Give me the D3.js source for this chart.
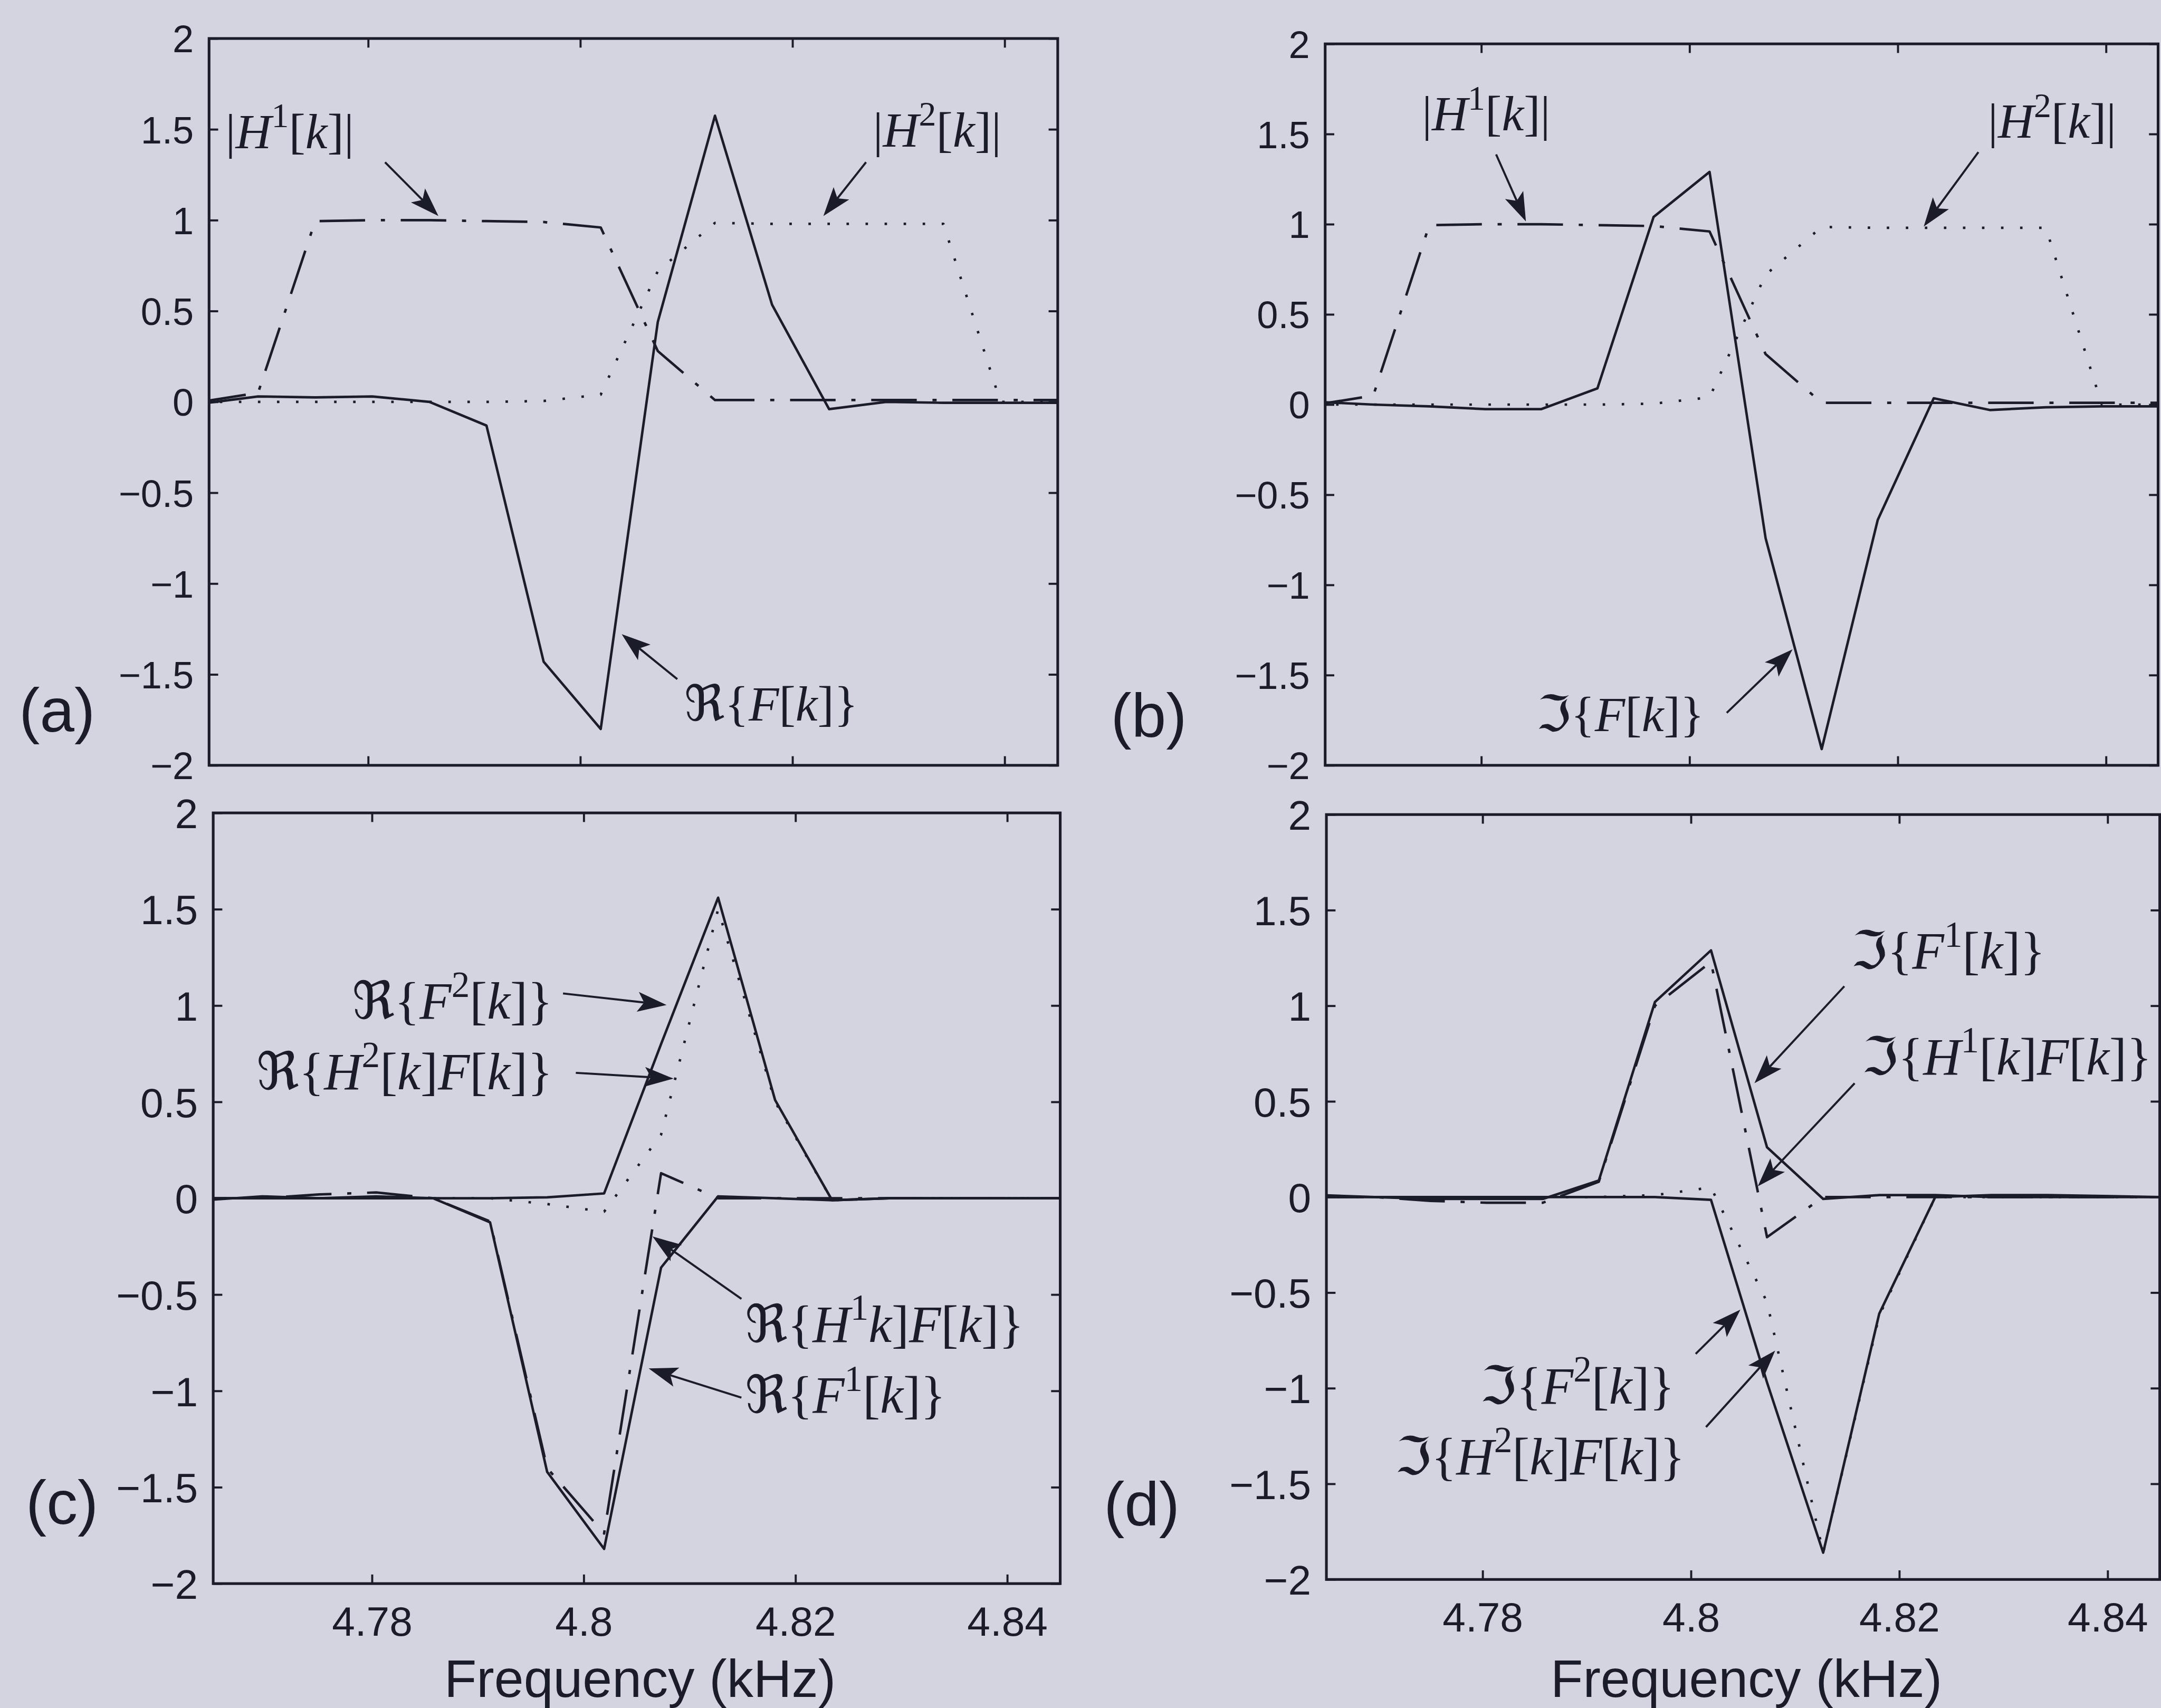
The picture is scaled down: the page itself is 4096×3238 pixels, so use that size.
<!DOCTYPE html>
<html>
<head>
<meta charset="utf-8">
<script src="https://cdn.jsdelivr.net/npm/d3@7"></script>
<style>
  html, body { margin: 0; padding: 0; background: #d3d4df; }
  svg { display: block; }
</style>
</head>
<body>
<svg id="fig" width="4096" height="3238"></svg>
<script>
/// DATA ///
// FFT bin centres (kHz)
const freqs = [4.76422, 4.76962, 4.77500, 4.78039, 4.78577, 4.79115, 4.79654, 4.80192,
               4.80730, 4.81269, 4.81807, 4.82345, 4.82884, 4.83422, 4.83960, 4.84499];

// filter magnitudes |H1[k]|, |H2[k]|
const H1 = [0, 0.05, 0.995, 1, 1, 0.995, 0.99, 0.96, 0.28, 0.01, 0.01, 0.01, 0.01, 0.01, 0.01, 0.01];
const H2 = [0, 0, 0, 0, 0, 0, 0.005, 0.04, 0.72, 0.985, 0.98, 0.98, 0.98, 0.98, 0, 0];

// spectrum F[k]
const reF = [-0.01, 0.03, 0.025, 0.03, 0.0, -0.13, -1.43, -1.80, 0.44, 1.575, 0.535, -0.04, 0.0, -0.005, -0.005, -0.005];
const imF = [0.015, 0.0, -0.01, -0.025, -0.025, 0.09, 1.04, 1.29, -0.74, -1.91, -0.64, 0.035, -0.03, -0.015, -0.01, -0.01];

// panel (c) real parts
const reF1  = [-0.01, 0.01, 0.0, 0.01, 0.0, -0.125, -1.42, -1.82, -0.36, 0.01, 0.0, -0.01, 0.0, 0.0, 0.0, 0.0];
const reF2  = [0.0, 0.0, 0.0, 0.0, 0.0, 0.0, 0.005, 0.025, 0.80, 1.56, 0.51, -0.01, 0.0, 0.0, 0.0, 0.0];
const reH1F = [0.0, 0.0, 0.02, 0.03, 0.0, -0.12, -1.40, -1.74, 0.13, 0.0, 0.0, 0.0, 0.0, 0.0, 0.0, 0.0];
const reH2F = [0.0, 0.0, 0.0, 0.0, 0.0, 0.0, -0.03, -0.07, 0.33, 1.50, 0.50, -0.01, 0.0, 0.0, 0.0, 0.0];

// panel (d) imaginary parts
const imF1  = [0.01, 0.0, -0.01, -0.01, -0.01, 0.086, 1.02, 1.29, 0.26, -0.01, 0.01, 0.01, 0.0, 0.0, 0.0, 0.0];
const imF2  = [0.0, 0.0, 0.0, 0.0, 0.0, 0.0, 0.0, -0.015, -0.97, -1.86, -0.61, 0.0, 0.01, 0.01, 0.005, 0.0];
const imH1F = [0.0, 0.0, -0.02, -0.03, -0.03, 0.08, 1.0, 1.23, -0.21, 0.0, 0.0, 0.0, 0.0, 0.0, 0.0, 0.0];
const imH2F = [0.0, 0.0, 0.0, 0.0, 0.0, 0.0, 0.01, 0.05, -0.55, -1.86, -0.62, 0.0, 0.0, 0.0, 0.0, 0.0];

// axes
const xDomain = [4.765, 4.845];
const yDomain = [-2, 2];
const xTicks = [4.78, 4.80, 4.82, 4.84];
const yTicks = [-2, -1.5, -1, -0.5, 0, 0.5, 1, 1.5, 2];

/// STYLE / LAYOUT (reference pixel units, scaled down at the end) ///
const ink = "#1a1c2a";
const sansFont = "'Liberation Sans', Arial, Helvetica, sans-serif";
const mathFont = "'Liberation Serif', 'Times New Roman', serif";
const symFont = "'DejaVu Serif', 'DejaVu Sans', serif";
const lineW = 6;
const dashes = { solid: null, dot: "6 40", dashdot: "110 38 10 38" };

const layout = {
  a: { box: [505, 93, 2555, 1849],  tickFs: 92,  mathFs: 120, letter: ["(a)", 138, 1768],  xlab: false },
  b: { box: [3201, 106, 5213, 1849], tickFs: 92,  mathFs: 120, letter: ["(b)", 2775, 1780], xlab: false },
  c: { box: [515, 1964, 2561, 3826], tickFs: 100, mathFs: 126, letter: ["(c)", 150, 3682],  xlab: true },
  d: { box: [3204, 1968, 5217, 3816], tickFs: 100, mathFs: 126, letter: ["(d)", 2758, 3686], xlab: true }
};

const series = {
  a: [{ v: H1, s: "dashdot" }, { v: H2, s: "dot" }, { v: reF, s: "solid" }],
  b: [{ v: H1, s: "dashdot" }, { v: H2, s: "dot" }, { v: imF, s: "solid" }],
  c: [{ v: reH2F, s: "dot" }, { v: reH1F, s: "dashdot" }, { v: reF1, s: "solid" }, { v: reF2, s: "solid" }],
  d: [{ v: imH2F, s: "dot" }, { v: imH1F, s: "dashdot" }, { v: imF1, s: "solid" }, { v: imF2, s: "solid" }]
};

// label pieces: [text, kind] kind: i = italic, sup = superscript, sym = fraktur symbol
const Re = ["\u211C", "sym"], Im = ["\u2111", "sym"];
const lb = ["{"], rb = ["}"], ob = ["["], cb = ["]"], kk = ["k", "i"], bar = ["|"];
const labels = {
  a: [
    { segs: [bar, ["H", "i"], ["1", "sup"], ob, kk, cb, bar], at: [4.76656, 1.396], anchor: "start", from: [4.78159, 1.319], to: [4.78662, 1.023] },
    { segs: [bar, ["H", "i"], ["2", "sup"], ob, kk, cb, bar], at: [4.82759, 1.405], anchor: "start", from: [4.82693, 1.319], to: [4.82291, 1.023] },
    { segs: [Re, lb, ["F", "i"], ob, kk, cb, rb], at: [4.8098, -1.754], anchor: "start", from: [4.80914, -1.526], to: [4.8039, -1.278] }
  ],
  b: [
    { segs: [bar, ["H", "i"], ["1", "sup"], ob, kk, cb, bar], at: [4.7743, 1.52], anchor: "start", from: [4.78142, 1.387], to: [4.78428, 1.0155] },
    { segs: [bar, ["H", "i"], ["2", "sup"], ob, kk, cb, bar], at: [4.82866, 1.479], anchor: "start", from: [4.82774, 1.40], to: [4.82249, 0.987] },
    { segs: [Im, lb, ["F", "i"], ob, kk, cb, rb], at: [4.78528, -1.81], anchor: "start", from: [4.80357, -1.709], to: [4.80989, -1.357] }
  ],
  c: [
    { segs: [Re, lb, ["F", "i"], ["2", "sup"], ob, kk, cb, rb], at: [4.79706, 0.932], anchor: "end", from: [4.79804, 1.063], to: [4.80782, 1.003] },
    { segs: [Re, lb, ["H", "i"], ["2", "sup"], ob, kk, cb, ["F", "i"], ob, kk, cb, rb], at: [4.79706, 0.567], anchor: "end", from: [4.79925, 0.651], to: [4.80848, 0.621] },
    { segs: [Re, lb, ["H", "i"], ["1", "sup"], kk, cb, ["F", "i"], ob, kk, cb, rb], at: [4.81524, -0.745], anchor: "start", from: [4.81489, -0.522], to: [4.80649, -0.198] },
    { segs: [Re, lb, ["F", "i"], ["1", "sup"], ob, kk, cb, rb], at: [4.81524, -1.113], anchor: "start", from: [4.81489, -1.035], to: [4.80613, -0.883] }
  ],
  d: [
    { segs: [Im, lb, ["F", "i"], ["1", "sup"], ob, kk, cb, rb], at: [4.81535, 1.195], anchor: "start", from: [4.81472, 1.102], to: [4.80609, 0.595] },
    { segs: [Im, lb, ["H", "i"], ["1", "sup"], ob, kk, cb, ["F", "i"], ob, kk, cb, rb], at: [4.81639, 0.641], anchor: "start", from: [4.81571, 0.595], to: [4.80641, 0.056] },
    { segs: [Im, lb, ["F", "i"], ["2", "sup"], ob, kk, cb, rb], at: [4.79842, -1.08], anchor: "end", from: [4.80045, -0.82], to: [4.80474, -0.589] },
    { segs: [Im, lb, ["H", "i"], ["2", "sup"], ob, kk, cb, ["F", "i"], ob, kk, cb, rb], at: [4.79942, -1.45], anchor: "end", from: [4.80144, -1.203], to: [4.80808, -0.803] }
  ]
};

/// DRAW ///
const svg = d3.select("#fig");
const root = svg.append("g").attr("transform", `scale(${4096 / 5220})`);
const fmt = d3.format("");

function mathText(g, segs, x, y, size, anchor) {
  const t = g.append("text")
    .attr("x", x).attr("y", y)
    .attr("font-size", size)
    .attr("font-family", mathFont)
    .attr("text-anchor", anchor)
    .attr("fill", ink);
  let raised = false;
  segs.forEach(([s, kind]) => {
    const sp = t.append("tspan").text(s);
    if (kind === "sup") {
      sp.attr("font-size", size * 0.7).attr("dy", -0.42 * size);
      raised = true;
    } else if (raised) {
      sp.attr("dy", 0.42 * size);
      raised = false;
    }
    if (kind === "i") sp.attr("font-style", "italic");
    if (kind === "sym") sp.attr("font-family", symFont);
  });
}

function arrow(g, x1, y1, x2, y2) {
  const ang = Math.atan2(y2 - y1, x2 - x1);
  const len = 70, half = 24;
  const bx = x2 - len * Math.cos(ang), by = y2 - len * Math.sin(ang);
  const nx = -Math.sin(ang), ny = Math.cos(ang);
  const mx = x2 - 0.78 * len * Math.cos(ang), my = y2 - 0.78 * len * Math.sin(ang);
  g.append("line")
    .attr("x1", x1).attr("y1", y1).attr("x2", mx).attr("y2", my)
    .attr("stroke", ink).attr("stroke-width", 5);
  g.append("path")
    .attr("d", `M${x2},${y2}L${bx + nx * half},${by + ny * half}L${mx},${my}L${bx - nx * half},${by - ny * half}Z`)
    .attr("fill", ink);
}

Object.keys(layout).forEach(id => {
  const p = layout[id];
  const [x0, y0, x1, y1] = p.box;
  const x = d3.scaleLinear().domain(xDomain).range([x0, x1]);
  const y = d3.scaleLinear().domain(yDomain).range([y1, y0]);
  const g = root.append("g").attr("class", "panel-" + id);

  // clip so the first bin (just left of the x limit) is cut at the box
  g.append("clipPath").attr("id", "clip-" + id)
    .append("rect").attr("x", x0).attr("y", y0).attr("width", x1 - x0).attr("height", y1 - y0);

  const line = d3.line().x((d, i) => x(freqs[i])).y(d => y(d));
  series[id].forEach(s => {
    g.append("path")
      .attr("d", line(s.v))
      .attr("clip-path", `url(#clip-${id})`)
      .attr("fill", "none")
      .attr("stroke", ink)
      .attr("stroke-width", lineW)
      .attr("stroke-linejoin", "round")
      .attr("stroke-dasharray", dashes[s.s]);
  });

  // axes with inward ticks on all four sides
  const bottom = g.append("g").attr("transform", `translate(0,${y1})`)
    .call(d3.axisBottom(x).tickValues(xTicks).tickSizeInner(-22).tickSizeOuter(0).tickPadding(55)
      .tickFormat(p.xlab ? fmt : () => ""));
  const top = g.append("g").attr("transform", `translate(0,${y0})`)
    .call(d3.axisTop(x).tickValues(xTicks).tickSizeInner(-22).tickSizeOuter(0).tickFormat(() => ""));
  const left = g.append("g").attr("transform", `translate(${x0},0)`)
    .call(d3.axisLeft(y).tickValues(yTicks).tickSizeInner(-22).tickSizeOuter(0).tickPadding(37).tickFormat(fmt));
  const right = g.append("g").attr("transform", `translate(${x1},0)`)
    .call(d3.axisRight(y).tickValues(yTicks).tickSizeInner(-22).tickSizeOuter(0).tickFormat(() => ""));

  [bottom, top, left, right].forEach(ax => {
    ax.select(".domain").remove();
    ax.selectAll(".tick line").attr("stroke", ink).attr("stroke-width", 5);
    ax.selectAll(".tick text")
      .attr("fill", ink)
      .attr("font-family", sansFont)
      .attr("font-size", p.tickFs);
  });
  left.selectAll(".tick text").attr("dy", "0.36em");

  // box
  g.append("rect")
    .attr("x", x0).attr("y", y0).attr("width", x1 - x0).attr("height", y1 - y0)
    .attr("fill", "none").attr("stroke", ink).attr("stroke-width", 6.5);

  // annotations
  labels[id].forEach(a => {
    mathText(g, a.segs, x(a.at[0]), y(a.at[1]), p.mathFs, a.anchor);
    arrow(g, x(a.from[0]), y(a.from[1]), x(a.to[0]), y(a.to[1]));
  });

  // panel letter
  g.append("text")
    .text(p.letter[0])
    .attr("x", p.letter[1]).attr("y", p.letter[2])
    .attr("text-anchor", "middle")
    .attr("font-family", sansFont).attr("font-size", 150)
    .attr("fill", ink);

  // x label
  if (p.xlab) {
    g.append("text")
      .text("Frequency (kHz)")
      .attr("x", (x0 + x1) / 2 + 8).attr("y", 4100)
      .attr("text-anchor", "middle")
      .attr("font-family", sansFont).attr("font-size", 128)
      .attr("fill", ink);
  }
});
</script>
</body>
</html>
